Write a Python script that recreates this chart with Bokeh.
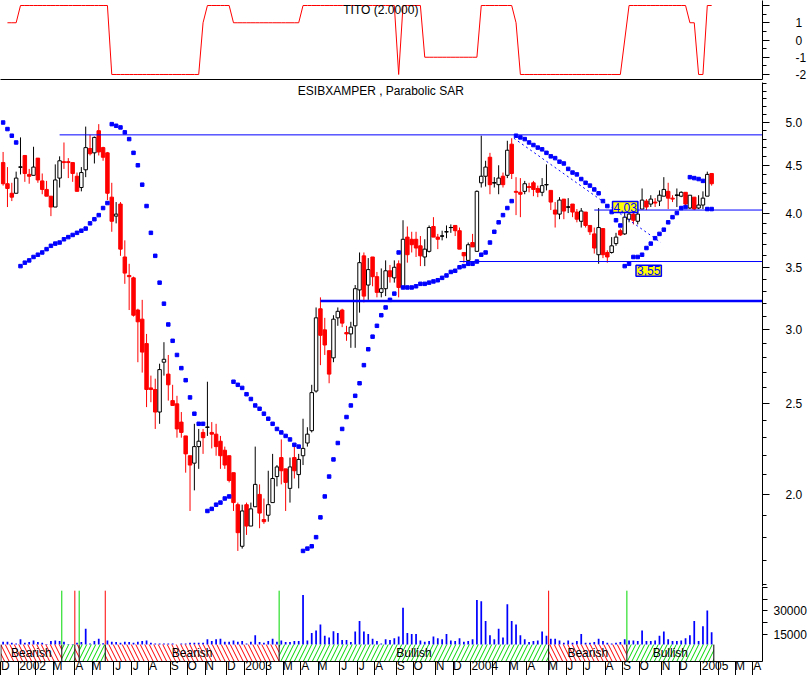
import pandas as pd
from bokeh.plotting import figure
from bokeh.layouts import column
from bokeh.models import Range1d, FixedTicker, LinearAxis, Label, ColumnDataSource, NumeralTickFormatter
from bokeh.embed import file_html
from bokeh.resources import INLINE
from bokeh.core.properties import value

FONT = "Liberation Sans"
RED = "#FF0000"
BLUE = "#0000FF"
GREEN = "#00D800"

# ---------------- data ----------------
first_week = "2001-12-07"      # weekly bars (Friday dates)
axis_weeks = 176               # weeks covered by the date axis

opens = [4.53, 4.30, 4.20, 4.20, 4.48, 4.61, 4.40, 4.39, 4.58, 4.33,
         4.24, 4.17, 4.06, 4.36, 4.54, 4.54, 4.53, 4.38, 4.26, 4.45,
         4.69, 4.64, 4.90, 4.70, 4.64, 4.16, 3.97, 4.09, 3.59, 3.43,
         3.41, 3.15, 3.08, 2.90, 2.60, 2.59, 2.45, 2.77, 2.69, 2.52,
         2.50, 2.39, 2.31, 2.20, 2.16, 2.25, 2.33, 2.36, 2.33, 2.32,
         2.28, 2.23, 2.20, 2.11, 1.95, 1.76, 1.95, 1.85, 1.94, 2.00,
         1.88, 1.90, 1.96, 2.09, 2.19, 2.13, 2.03, 2.19, 2.10, 2.20,
         2.27, 2.34, 2.58, 3.16, 3.00, 2.85, 2.80, 3.09, 3.15, 2.98,
         2.97, 3.03, 3.31, 3.60, 3.35, 3.59, 3.42, 3.29, 3.32, 3.47,
         3.41, 3.53, 3.33, 3.77, 3.75, 3.75, 3.69, 3.59, 3.64, 3.87,
         3.77, 3.78, 3.82, 3.86, 3.88, 3.83, 3.63, 3.56, 3.72, 3.64,
         4.31, 4.38, 4.59, 4.31, 4.29, 4.38, 4.39, 4.74, 4.22, 4.21,
         4.22, 4.27, 4.31, 4.25, 4.21, 4.29, 4.23, 4.03, 3.99, 4.14,
         4.06, 4.09, 4.01, 3.92, 4.01, 3.88, 3.80, 3.61, 3.85, 3.63,
         3.63, 3.71, 3.83, 3.80, 3.94, 3.99, 3.92, 4.04, 4.12, 4.09,
         4.11, 4.12, 4.17, 4.22, 4.15, 4.18, 4.17, 4.21, 4.05, 4.16,
         4.05, 4.08, 4.17, 4.41]
highs = [4.65, 4.48, 4.31, 4.43, 4.82, 4.61, 4.46, 4.71, 4.58, 4.41,
         4.33, 4.17, 4.51, 4.60, 4.76, 4.58, 4.53, 4.42, 4.48, 4.95,
         4.85, 4.83, 4.98, 4.71, 4.65, 4.31, 4.11, 4.11, 3.74, 3.53,
         3.42, 3.16, 3.23, 2.97, 2.68, 2.66, 2.76, 2.91, 2.82, 2.62,
         2.55, 2.45, 2.31, 2.20, 2.38, 2.35, 2.35, 2.64, 2.39, 2.38,
         2.31, 2.25, 2.20, 2.11, 1.96, 1.95, 1.96, 1.96, 2.25, 2.05,
         1.98, 2.12, 2.21, 2.15, 2.29, 2.13, 2.19, 2.25, 2.21, 2.41,
         2.36, 2.62, 3.17, 3.25, 3.09, 2.85, 3.11, 3.17, 3.16, 3.03,
         3.06, 3.35, 3.63, 3.63, 3.58, 3.59, 3.46, 3.49, 3.56, 3.52,
         3.56, 3.56, 3.93, 3.87, 3.82, 3.82, 3.78, 3.75, 3.88, 3.96,
         3.80, 3.83, 3.88, 3.89, 3.88, 3.86, 3.63, 3.72, 3.80, 4.23,
         4.84, 4.55, 4.64, 4.37, 4.50, 4.42, 4.78, 4.81, 4.37, 4.36,
         4.33, 4.31, 4.33, 4.28, 4.36, 4.51, 4.23, 4.11, 4.16, 4.14,
         4.15, 4.09, 4.04, 4.05, 4.01, 3.88, 3.86, 4.05, 3.85, 3.65,
         3.77, 3.81, 3.85, 4.01, 4.03, 4.01, 4.01, 4.25, 4.14, 4.18,
         4.15, 4.23, 4.37, 4.31, 4.18, 4.25, 4.22, 4.21, 4.18, 4.16,
         4.18, 4.22, 4.43, 4.41]
lows = [4.28, 4.06, 4.12, 4.20, 4.40, 4.32, 4.30, 4.39, 4.31, 4.19,
        4.17, 3.97, 4.06, 4.26, 4.46, 4.36, 4.32, 4.22, 4.22, 4.37,
        4.61, 4.52, 4.61, 4.55, 4.13, 3.82, 3.90, 3.60, 3.36, 3.15,
        3.10, 2.77, 2.70, 2.48, 2.51, 2.35, 2.38, 2.68, 2.52, 2.49,
        2.30, 2.30, 2.11, 1.92, 2.02, 2.13, 2.21, 2.31, 2.24, 2.20,
        2.13, 2.13, 2.06, 1.92, 1.74, 1.75, 1.81, 1.85, 1.94, 1.84,
        1.86, 1.87, 1.96, 2.04, 2.05, 1.92, 1.96, 2.08, 2.03, 2.15,
        2.25, 2.33, 2.57, 2.75, 2.82, 2.63, 2.77, 3.03, 3.02, 2.92,
        2.87, 2.87, 3.13, 3.21, 3.23, 3.34, 3.25, 3.25, 3.26, 3.37,
        3.37, 3.25, 3.33, 3.54, 3.63, 3.59, 3.51, 3.51, 3.63, 3.77,
        3.66, 3.74, 3.76, 3.81, 3.78, 3.66, 3.54, 3.56, 3.68, 3.64,
        4.26, 4.27, 4.19, 4.26, 4.19, 4.26, 4.36, 4.35, 3.98, 3.96,
        4.19, 4.21, 4.17, 4.16, 4.17, 4.23, 4.03, 3.86, 3.94, 3.94,
        4.00, 3.96, 3.91, 3.86, 3.86, 3.79, 3.62, 3.53, 3.58, 3.54,
        3.62, 3.69, 3.78, 3.79, 3.91, 3.89, 3.89, 4.04, 4.03, 4.06,
        4.06, 4.07, 4.17, 4.04, 4.11, 4.06, 4.16, 4.06, 4.04, 4.03,
        4.04, 4.04, 4.17, 4.28]
closes = [4.30, 4.25, 4.16, 4.36, 4.48, 4.41, 4.38, 4.48, 4.34, 4.24,
          4.17, 4.06, 4.34, 4.55, 4.53, 4.53, 4.41, 4.22, 4.42, 4.70,
          4.63, 4.82, 4.65, 4.59, 4.20, 3.92, 3.99, 3.66, 3.45, 3.42,
          3.11, 3.06, 2.84, 2.59, 2.59, 2.45, 2.72, 2.79, 2.62, 2.49,
          2.35, 2.33, 2.21, 2.15, 2.25, 2.28, 2.30, 2.36, 2.32, 2.25,
          2.20, 2.15, 2.07, 1.96, 1.82, 1.92, 1.85, 1.93, 2.05, 1.91,
          1.87, 1.95, 2.08, 2.14, 2.12, 2.06, 2.14, 2.12, 2.18, 2.24,
          2.32, 2.57, 3.09, 2.96, 2.89, 2.69, 3.08, 3.14, 3.05, 2.97,
          3.02, 3.32, 3.54, 3.26, 3.48, 3.42, 3.29, 3.32, 3.47, 3.42,
          3.50, 3.33, 3.75, 3.61, 3.70, 3.67, 3.60, 3.66, 3.86, 3.77,
          3.75, 3.78, 3.82, 3.86, 3.83, 3.66, 3.60, 3.70, 3.68, 4.22,
          4.38, 4.48, 4.29, 4.31, 4.36, 4.29, 4.67, 4.41, 4.21, 4.19,
          4.30, 4.26, 4.24, 4.21, 4.28, 4.29, 4.11, 3.99, 4.13, 4.02,
          4.06, 4.01, 3.94, 4.02, 3.88, 3.82, 3.67, 3.86, 3.61, 3.59,
          3.69, 3.77, 3.79, 3.96, 3.99, 3.93, 3.99, 4.13, 4.06, 4.14,
          4.10, 4.18, 4.24, 4.15, 4.14, 4.18, 4.21, 4.09, 4.18, 4.04,
          4.08, 4.15, 4.40, 4.30]
volumes = [10000, 10000, 9300, 8900, 11600, 9300, 9800, 10900, 9800, 9300,
           8500, 10500, 10900, 10500, 10000, 8500, 8500, 9300, 9800, 18400,
           8900, 10500, 12000, 9000, 10900, 10000, 9800, 9300, 10000, 9800,
           9300, 10000, 10500, 10900, 9300, 8900, 8900, 8900, 8900, 8900,
           8000, 8900, 8900, 9300, 9300, 9300, 9300, 11600, 10500, 11600,
           12000, 10000, 10000, 10900, 10000, 10500, 8900, 10000, 14300, 9800,
           9300, 10500, 12000, 10000, 10900, 9800, 9800, 10500, 10500, 40200,
           10900, 15700, 17300, 21100, 13900, 12700, 16800, 15700, 11100, 11100,
           9800, 16600, 23400, 16600, 15000, 12000, 10500, 8900, 11600, 11100,
           12300, 13400, 32000, 15700, 15000, 15000, 10900, 10000, 10500, 13400,
           12300, 11600, 15000, 10900, 10500, 12300, 10000, 10500, 11600, 37000,
           36100, 23400, 14300, 11600, 18400, 12700, 34300, 23400, 21100, 14300,
           11600, 9800, 10500, 10900, 16600, 13900, 12000, 12000, 10900, 9300,
           10900, 9300, 10500, 15000, 9300, 9300, 9800, 12000, 10500, 9300,
           8900, 9300, 9800, 11600, 10900, 10900, 10500, 17300, 10500, 10500,
           10900, 13900, 16600, 11600, 10500, 10500, 10900, 12300, 14300, 23400,
           10500, 20000, 30200, 16100]
sar = [5.00, 4.92, 4.84, 4.76,
       3.51, 3.54, 3.56, 3.59, 3.61, 3.63, 3.66, 3.69, 3.71, 3.72, 3.75, 3.77,
       3.79, 3.81, 3.83, 3.85, 3.90, 3.94, 3.98, 4.05, 4.10,
       4.98, 4.96, 4.94, 4.88, 4.80, 4.64, 4.50, 4.29, 4.07, 3.81, 3.60, 3.37,
       3.20, 3.04, 2.92, 2.82, 2.73, 2.65, 2.54, 2.44, 2.38, 2.38,
       1.92, 1.93, 1.95, 1.96, 1.98, 1.99,
       2.64, 2.62, 2.60, 2.56, 2.53, 2.49, 2.47, 2.44, 2.41, 2.38, 2.35, 2.33,
       2.31, 2.29, 2.26, 2.25,
       1.74, 1.75, 1.76, 1.80, 1.89, 1.99, 2.09, 2.18, 2.27, 2.35, 2.42, 2.49,
       2.55, 2.63, 2.75, 2.86, 2.95, 3.03, 3.11, 3.17, 3.23, 3.28,
       3.63,
       3.33, 3.33, 3.33, 3.34, 3.36, 3.36, 3.37, 3.38, 3.39, 3.41, 3.43, 3.46,
       3.47, 3.50, 3.51, 3.53, 3.53, 3.55, 3.61, 3.63, 3.72, 3.82, 3.91, 3.98,
       4.05, 4.12,
       4.84, 4.82, 4.80, 4.76, 4.73, 4.70, 4.68, 4.64, 4.60, 4.58, 4.54, 4.52,
       4.46, 4.42, 4.40, 4.35, 4.31, 4.28, 4.24, 4.20, 4.12, 4.07, 4.01, 3.93,
       3.88,
       3.51, 3.53, 3.59, 3.59, 3.61, 3.67, 3.71, 3.76, 3.80, 3.84, 3.91, 3.96,
       4.00, 4.05, 4.06,
       4.37, 4.36, 4.35, 4.33,
       4.04, 4.04]
tito = [float("nan"), 1, 1, 1] + [2] * 21 + [-2] * 21 + [1] + [2] * 6 + [1] * 16 \
       + [2] * 22 + [-2] + [2] * 5 + [-1] * 13 + [2] * 8 + [1] + [-2] * 24 + [0] \
       + [2] * 14 + [1, 1, -2, -2, 2, 2]
tito_ticks = [-2, -1, 0, 1, 2]
tito_minor = [-1.5, -0.5, 0.5, 1.5]
tito_labels = {2: "", 1: "1", 0: "0", -1: "-1", -2: "-2"}

# trend regime bands (bar-boundary positions) and their names
band_start = [-0.5, 13.5, 16.5, 17.5, 23.5, 63.5, 125.5, 143.5]
band_end = [13.5, 16.5, 17.5, 23.5, 63.5, 125.5, 143.5, 163.5]
band_kind = ["Bearish", "Bullish", "Bearish", "Bullish", "Bearish", "Bullish", "Bearish", "Bullish"]

# horizontal support / resistance lines: level, first bar, width
hline_levels = [4.85, 3.22, 3.55, 4.03]
hline_start = [13, 73, 105, 136]
hline_width = [1, 2.5, 1, 1]
# dotted trend line (bar, price)
trend_bars = [117.5, 151.3]
trend_prices = [4.81, 3.72]
# value tags: text, bar, price
tags = [("4,03", 140.2, 4.06), ("3,55", 145.6, 3.47)]

price_ticks = [2.0, 2.5, 3.0, 3.5, 4.0, 4.5, 5.0]
price_minor = [round(1.6 + 0.1 * k, 1) for k in range(40)]
vol_ticks = [15000, 30000]
vol_minor = [22500, 37500, 45000]
month_letters = "JFMAMJJASOND"

# ---------------- derived ----------------
n = len(closes)
idx = list(range(n))
x_range = Range1d(-0.6, 174.7)
W, RB = 809, 47


def base(height, **kw):
    p = figure(width=W, height=height, x_range=x_range, toolbar_location=None,
               output_backend="svg", y_axis_location="right",
               min_border_left=0, min_border_right=RB, min_border_top=0, **kw)
    p.grid.visible = False
    p.outline_line_color = None
    p.background_fill_color = "white"
    p.border_fill_color = "white"
    return p


def style_axis(ax, tick_out, standoff, minor_out=0):
    ax.axis_line_color = "black"
    ax.major_tick_line_color = "black"
    ax.minor_tick_line_color = "black"
    ax.major_tick_out = tick_out
    ax.major_tick_in = 0
    ax.minor_tick_out = minor_out
    ax.minor_tick_in = 0
    ax.major_label_standoff = standoff
    ax.major_label_text_font = FONT
    ax.major_label_text_font_size = "12px"
    ax.major_label_text_color = "black"
    ax.major_label_text_align = "left"


# ---- TITO panel ----
pt = base(82, y_range=Range1d(-2.29, 2.29), x_axis_location=None, min_border_bottom=3)
pt.line(idx, tito, color=RED, line_width=1)
ay = pt.yaxis[0]
ay.ticker = FixedTicker(ticks=tito_ticks, minor_ticks=tito_minor)
ay.major_label_overrides = tito_labels
style_axis(ay, 7, 26, minor_out=4)
sep = LinearAxis(ticker=FixedTicker(ticks=[-1000]), axis_line_color="black",
                 major_tick_out=0, major_tick_in=0, minor_tick_out=0, minor_tick_in=0,
                 major_label_text_font_size="0px", major_label_standoff=0)
pt.add_layout(sep, "below")
pt.add_layout(Label(x=86.9, y=1.72, text="TITO (2.0000)", text_align="center",
                    text_baseline="middle", text_font=FONT, text_font_size="12px",
                    text_color="black"))

# ---- price panel ----
pp = base(504, y_axis_type="log", y_range=Range1d(1.594, 5.518), x_axis_location=None,
          min_border_bottom=0)
tops = [max(o, c) for o, c in zip(opens, closes)]
bots = [min(o, c) for o, c in zip(opens, closes)]
fills = [RED if c < o else "white" for o, c in zip(opens, closes)]
lcols = [RED if c < o else "black" for o, c in zip(opens, closes)]
src = ColumnDataSource(dict(x=idx, h=highs, l=lows, top=tops, bot=bots, fill=fills, lc=lcols))
pp.segment(x0="x", y0="l", x1="x", y1="h", line_color="lc", line_width=1, source=src)
pp.vbar(x="x", width=0.8, top="top", bottom="bot", fill_color="fill", line_color="lc",
        line_width=1, source=src)
doji = [i for i in idx if opens[i] == closes[i]]
pp.segment(x0=[i - 0.45 for i in doji], x1=[i + 0.45 for i in doji],
           y0=[closes[i] for i in doji], y1=[closes[i] for i in doji],
           line_color="black", line_width=1)

xend = x_range.end + 5
for lev, st, lw in zip(hline_levels, hline_start, hline_width):
    pp.segment(x0=[st], x1=[xend], y0=[lev], y1=[lev], line_color=BLUE, line_width=lw)
pp.line(trend_bars, trend_prices, line_color=BLUE, line_width=1, line_dash="2 3")
pp.scatter(idx, sar, marker="square", size=3.5, fill_color=BLUE, line_color=BLUE)
for txt, bx, by in tags:
    pp.add_layout(Label(x=bx, y=by, text=txt, text_align="left", text_baseline="middle",
                        text_font=FONT, text_font_size="12px", text_color=BLUE,
                        background_fill_color="#FFFF00", border_line_color=BLUE,
                        border_line_width=1.5, padding=1))
pp.add_layout(Label(x=86.9, y=5.41, text="ESIBXAMPER , Parabolic SAR", text_align="center",
                    text_baseline="middle", text_font=FONT, text_font_size="12px",
                    text_color="black"))
ap = pp.yaxis[0]
ap.ticker = FixedTicker(ticks=price_ticks, minor_ticks=price_minor)
ap.formatter = NumeralTickFormatter(format="0.0")
style_axis(ap, 7, 16, minor_out=4)

# ---- volume + regime band + date axis ----
band_bottom, band_top = -2730, 8180
pv = base(89, y_range=Range1d(band_bottom, 45700), x_axis_location="below",
          min_border_bottom=0)
pv.vbar(x=idx, width=0.4, top=volumes, bottom=0, fill_color=BLUE, line_color=None)
bsrc = ColumnDataSource(dict(
    left=band_start, right=band_end,
    pat=["\\" if k == "Bearish" else "/" for k in band_kind],
    hc=[RED if k == "Bearish" else GREEN for k in band_kind]))
pv.quad(left="left", right="right", bottom=band_bottom, top=band_top, fill_color="white",
        line_color=None, hatch_pattern="pat", hatch_color="hc", hatch_scale=9,
        hatch_weight=1, source=bsrc)
edges = sorted(set(band_start + band_end))
pv.segment(x0=edges, x1=edges, y0=band_bottom, y1=band_top, line_color="black", line_width=1)
sig_x = band_start[1:]
sig_c = [RED if k == "Bearish" else GREEN for k in band_kind[1:]]
pv.segment(x0=sig_x, x1=sig_x, y0=band_top, y1=43000, line_color=sig_c, line_width=1)
wide = [i for i in range(len(band_kind)) if band_end[i] - band_start[i] >= 10]
pv.text(x=[(band_start[i] + band_end[i]) / 2 for i in wide], y=(band_top + band_bottom) / 2,
        text=[band_kind[i] for i in wide], text_align="center", text_baseline="middle",
        text_font=value(FONT), text_font_size="12px", text_color="black")

av = pv.yaxis[0]
av.ticker = FixedTicker(ticks=vol_ticks, minor_ticks=vol_minor)
av.major_label_overrides = {15000: "15000", 30000: "30000"}
style_axis(av, 5, 6, minor_out=5)

dates = pd.date_range(first_week, periods=axis_weeks, freq="7D")
month_edges, label_pos, label_txt = [], [], []
prev = None
for i, d in enumerate(dates):
    key = (d.year, d.month)
    if key != prev:
        edge = i - 0.5
        month_edges.append(edge)
        if d.month == 1:
            label_pos.append(round(edge + 3.3, 3))
            label_txt.append(str(d.year))
        elif d.month != 2:
            label_pos.append(round(edge + 1.0, 3))
            label_txt.append(month_letters[d.month - 1])
    prev = key
ax = pv.xaxis[0]
ax.ticker = FixedTicker(ticks=label_pos, minor_ticks=month_edges)
ax.major_label_overrides = dict(zip(label_pos, label_txt))
style_axis(ax, 0, -3, minor_out=0)
ax.minor_tick_in = -14
ax.major_tick_line_color = None
ax.major_label_text_align = "center"

layout = column(pt, pp, pv, spacing=0)
open("out.html", "w").write(file_html(layout, INLINE))
